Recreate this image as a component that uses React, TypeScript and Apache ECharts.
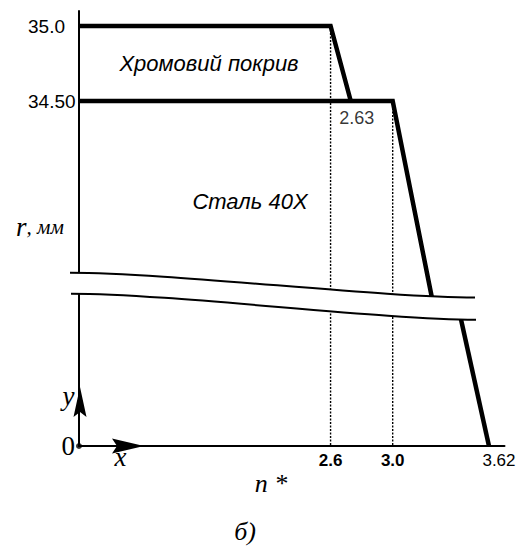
import React, { useEffect, useRef } from "react";
import * as echarts from "echarts";

// ---- data (drawing is schematic: axes are broken) ----
const xMin = 0.98;
const xMax = 3.72;
const upperYMin = 33.1;
const upperYMax = 35.1;
const lowerYMin = 0;
const lowerYMax = 1.1;

const coatingLine = [
  [0.98, 35.0],
  [2.6, 35.0],
  [2.73, 34.5],
];
const steelLineUpper = [
  [0.98, 34.5],
  [3.0, 34.5],
  [3.26, 33.15],
];
const steelLineLower = [
  [3.43, 0.89],
  [3.62, 0],
];
const guideXs = [2.6, 3.0];
const guideTops = [35.0, 34.5];
const guideUpperEnd = 33.15;
const guideLowerStart = 0.93;

const xTickValues = [2.6, 3.0, 3.62];
const xTickLabels = ["2.6", "3.0", "3.62"];
const xTickBold = [true, true, false];
const yTickValues = [34.5, 35.0];
const yTickLabels = ["34.50", "35.0"];
const kneePoint = [2.73, 34.5];
const kneeLabel = "2.63";
const originPoint = [0.98, 0];

const SANS = "'Liberation Sans', Arial, sans-serif";
const SERIF = "'Liberation Serif', 'Times New Roman', serif";

// break band between the two wavy lines
const upperCurve = { x1: 70, y1: 272.7, cpx1: 170, cpy1: 272.7, cpx2: 380, cpy2: 297.5, x2: 475, y2: 297.5 };
const lowerCurve = { x1: 71, y1: 293.7, cpx1: 171, cpy1: 293.7, cpx2: 381, cpy2: 319.7, x2: 476, y2: 319.7 };
const bandPath =
  `M${upperCurve.x1},${upperCurve.y1} C${upperCurve.cpx1},${upperCurve.cpy1} ${upperCurve.cpx2},${upperCurve.cpy2} ${upperCurve.x2},${upperCurve.y2} ` +
  `L${lowerCurve.x2},${lowerCurve.y2} C${lowerCurve.cpx2},${lowerCurve.cpy2} ${lowerCurve.cpx1},${lowerCurve.cpy1} ${lowerCurve.x1},${lowerCurve.y1} Z`;

echarts.graphic.registerShape("breakBand", echarts.graphic.extendPath(bandPath, {}));
echarts.graphic.registerShape("arrowRight", echarts.graphic.extendPath("M0,0 L-32,-7.5 L-27,0 L-32,7.5 Z", {}));
echarts.graphic.registerShape("arrowUp", echarts.graphic.extendPath("M0,0 L-6.5,30 L0,25 L6.5,30 Z", {}));

const thick = { color: "#000", width: 4.5, join: "miter", cap: "butt" };
const dotted = { color: "#000", width: 1.4, type: [2, 1.5] };

export default function App() {
  const ref = useRef<HTMLDivElement>(null);
  useEffect(() => {
    if (!ref.current) return;
    const chart = echarts.init(ref.current, null, { renderer: "svg" });
    const guideSeries: any[] = [];
    guideXs.forEach((gx, i) => {
      guideSeries.push({
        type: "line",
        xAxisIndex: 0,
        yAxisIndex: 0,
        data: [
          [gx, guideTops[i]],
          [gx, guideUpperEnd],
        ],
        symbol: "none",
        lineStyle: dotted,
        z: 1,
      });
      guideSeries.push({
        type: "line",
        xAxisIndex: 1,
        yAxisIndex: 1,
        data: [
          [gx, guideLowerStart],
          [gx, 0],
        ],
        symbol: "none",
        lineStyle: dotted,
        z: 1,
      });
    });
    const findIdx = (arr: number[], v: number) => arr.findIndex((a) => Math.abs(a - v) < 1e-6);
    chart.setOption({
      animation: false,
      backgroundColor: "#fff",
      grid: [
        { left: 79, top: 11, width: 425.5, height: 300 },
        { left: 79, top: 281, width: 425.5, height: 165 },
      ],
      xAxis: [
        { type: "value", gridIndex: 0, min: xMin, max: xMax, show: false },
        {
          type: "value",
          gridIndex: 1,
          min: xMin,
          max: xMax,
          axisLine: { show: true, onZero: false, lineStyle: { color: "#000", width: 2 } },
          axisTick: { show: false },
          splitLine: { show: false },
          axisLabel: {
            customValues: xTickValues,
            margin: 6,
            formatter: (v: number) => {
              const i = findIdx(xTickValues, v);
              if (i < 0) return "";
              return xTickBold[i] ? `{b|${xTickLabels[i]}}` : `{r|${xTickLabels[i]}}`;
            },
            rich: {
              b: { fontFamily: SANS, fontSize: 17, fontWeight: "bold", color: "#000" },
              r: { fontFamily: SANS, fontSize: 17, color: "#000", padding: [0, 0, 0, 20] },
            },
          },
        },
      ],
      yAxis: [
        {
          type: "value",
          gridIndex: 0,
          min: upperYMin,
          max: upperYMax,
          axisLine: { show: true, onZero: false, lineStyle: { color: "#000", width: 2 } },
          axisTick: { show: false },
          splitLine: { show: false },
          axisLabel: {
            customValues: yTickValues,
            align: "left",
            margin: 51,
            fontFamily: SANS,
            fontSize: 19,
            color: "#000",
            formatter: (v: number) => {
              const i = findIdx(yTickValues, v);
              return i < 0 ? "" : yTickLabels[i];
            },
          },
        },
        {
          type: "value",
          gridIndex: 1,
          min: lowerYMin,
          max: lowerYMax,
          axisLine: { show: true, onZero: false, lineStyle: { color: "#000", width: 2 } },
          axisTick: { show: false },
          splitLine: { show: false },
          axisLabel: {
            customValues: [0],
            margin: 4,
            fontFamily: SERIF,
            fontSize: 27,
            color: "#000",
            padding: [6, 0, 0, 0],
            formatter: () => "0",
          },
        },
      ],
      series: [
        ...guideSeries,
        { type: "line", xAxisIndex: 0, yAxisIndex: 0, data: coatingLine, symbol: "none", lineStyle: thick, z: 3 },
        { type: "line", xAxisIndex: 0, yAxisIndex: 0, data: steelLineUpper, symbol: "none", lineStyle: thick, z: 3 },
        { type: "line", xAxisIndex: 1, yAxisIndex: 1, data: steelLineLower, symbol: "none", lineStyle: thick, z: 3 },
        {
          type: "scatter",
          xAxisIndex: 0,
          yAxisIndex: 0,
          data: [kneePoint],
          symbolSize: 1,
          itemStyle: { color: "rgba(0,0,0,0)" },
          label: {
            show: true,
            formatter: kneeLabel,
            position: "bottom",
            distance: 7,
            offset: [6, 0],
            fontFamily: SANS,
            fontSize: 18,
            color: "#000",
          },
          z: 4,
        },
        {
          type: "scatter",
          xAxisIndex: 1,
          yAxisIndex: 1,
          data: [originPoint],
          symbolSize: 6,
          itemStyle: { color: "#000" },
          z: 4,
        },
      ],
      graphic: [
        { type: "breakBand", x: 0, y: 0, z: 100, style: { fill: "#fff", stroke: null } },
        { type: "bezierCurve", z: 101, shape: upperCurve, style: { stroke: "#000", lineWidth: 2, fill: null } },
        { type: "bezierCurve", z: 101, shape: lowerCurve, style: { stroke: "#000", lineWidth: 2, fill: null } },
        { type: "arrowRight", x: 144, y: 446, z: 101, style: { fill: "#000" } },
        { type: "arrowUp", x: 80, y: 387, z: 101, style: { fill: "#000" } },
        {
          type: "text", x: 209, y: 63, z: 101,
          style: { text: "Хромовий покрив", fontFamily: SANS, fontStyle: "italic", fontSize: 22, fill: "#000", align: "center", verticalAlign: "middle" },
        },
        {
          type: "text", x: 250, y: 201.5, z: 101,
          style: { text: "Сталь 40Х", fontFamily: SANS, fontStyle: "italic", fontSize: 22, fill: "#000", align: "center", verticalAlign: "middle" },
        },
        {
          type: "text", x: 16, y: 227, z: 101,
          style: {
            text: "{a|r}{b|, мм}",
            align: "left",
            verticalAlign: "middle",
            rich: {
              a: { fontFamily: SERIF, fontStyle: "italic", fontSize: 27, fill: "#000" },
              b: { fontFamily: SERIF, fontStyle: "italic", fontSize: 21, fill: "#000" },
            },
          },
        },
        {
          type: "text", x: 68.5, y: 396, z: 101,
          style: { text: "y", fontFamily: SERIF, fontStyle: "italic", fontSize: 27, fill: "#000", align: "center", verticalAlign: "middle" },
        },
        {
          type: "text", x: 120.5, y: 457, z: 101,
          style: { text: "x", fontFamily: SERIF, fontStyle: "italic", fontSize: 27, fill: "#000", align: "center", verticalAlign: "middle" },
        },
        {
          type: "text", x: 271, y: 483, z: 101,
          style: { text: "n *", fontFamily: SERIF, fontStyle: "italic", fontSize: 26, fill: "#000", align: "center", verticalAlign: "middle" },
        },
        {
          type: "text", x: 245, y: 531, z: 101,
          style: { text: "б)", fontFamily: SERIF, fontStyle: "italic", fontSize: 26, fill: "#000", align: "center", verticalAlign: "middle" },
        },
      ],
    });
    return () => chart.dispose();
  }, []);
  return (
    <div
      ref={ref}
      style={{ position: "fixed", left: 0, top: 0, width: 525, height: 546, background: "#fff" }}
    />
  );
}
